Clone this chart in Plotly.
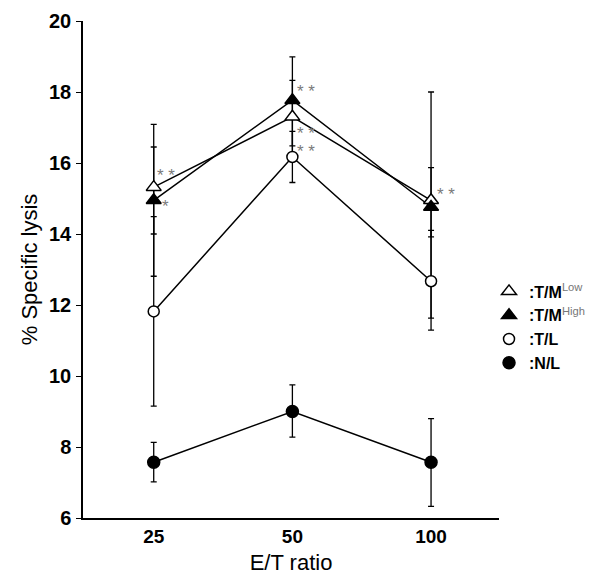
import plotly.graph_objects as go

# ---- data ----
categories = ["25", "50", "100"]

tm_low = [15.32, 17.30, 14.95]
tm_low_plus = [1.77, 1.03, 3.05]
tm_low_minus = [2.51, 1.03, 3.32]

tm_high = [14.95, 17.77, 14.76]
tm_high_plus = [1.50, 1.22, 1.11]
tm_high_minus = [0.95, 1.29, 0.84]

tl = [11.82, 16.17, 12.67]
tl_plus = [2.67, 0.72, 1.43]
tl_minus = [2.67, 0.72, 1.38]

nl = [7.57, 9.00, 7.57]
nl_plus = [0.56, 0.75, 1.23]
nl_minus = [0.55, 0.72, 1.24]

sig_tm_low = ["* *", "* *", "* *"]
sig_tm_high = ["*", "* *", ""]
sig_tl = ["", "* *", ""]
sig_nl = ["", "", ""]

y_ticks = [6, 8, 10, 12, 14, 16, 18, 20]

FONT = "Liberation Sans, Arial, sans-serif"
SUP = "<span style='color:#777'><sup>{}</sup></span>"

# ---- styling ----
series = [
    dict(name="<b>:T/M</b>" + SUP.format("Low"), y=tm_low, p=tm_low_plus, m=tm_low_minus,
         symbol="triangle-up", fill="white", size=13, sig=sig_tm_low,
         sig_shift=[(12, 12), (14, -17), (15, 6)]),
    dict(name="<b>:T/M</b>" + SUP.format("High"), y=tm_high, p=tm_high_plus, m=tm_high_minus,
         symbol="triangle-up", fill="black", size=13, sig=sig_tm_high,
         sig_shift=[(12, -6), (14, 9), (0, 0)]),
    dict(name="<b>:T/L</b>", y=tl, p=tl_plus, m=tl_minus,
         symbol="circle", fill="white", size=11, sig=sig_tl,
         sig_shift=[(0, 0), (14, 5), (0, 0)]),
    dict(name="<b>:N/L</b>", y=nl, p=nl_plus, m=nl_minus,
         symbol="circle", fill="black", size=12, sig=sig_nl,
         sig_shift=[(0, 0), (0, 0), (0, 0)]),
]

fig = go.Figure()

# lines + error bars (drawn first)
for s in series:
    fig.add_trace(go.Scatter(
        x=categories, y=s["y"], mode="lines", showlegend=False,
        line=dict(color="black", width=1.5),
        error_y=dict(type="data", symmetric=False, array=s["p"], arrayminus=s["m"],
                     color="black", thickness=1.3, width=3),
        hoverinfo="skip",
    ))

# markers (on top), also used for the legend
for s in series:
    fig.add_trace(go.Scatter(
        x=categories, y=s["y"], mode="markers", name=s["name"],
        marker=dict(symbol=s["symbol"], size=s["size"], color=s["fill"],
                    line=dict(color="black", width=1.5)),
    ))

# significance asterisks (x given as category index)
ann = []
for s in series:
    for i, lab in enumerate(s["sig"]):
        if lab:
            dx, dy = s["sig_shift"][i]
            ann.append(dict(x=i, y=s["y"][i], xref="x", yref="y", text=lab, showarrow=False,
                            xanchor="center", yanchor="middle", xshift=dx, yshift=dy,
                            font=dict(family=FONT, size=17, color="#7a7a7a")))

fig.update_layout(
    width=591, height=576,
    margin=dict(l=83, r=92, t=21, b=58, autoexpand=False),
    paper_bgcolor="white", plot_bgcolor="white",
    showlegend=True,
    legend=dict(x=0.976, xanchor="left", y=0.49, yanchor="top",
                font=dict(family=FONT, size=16, color="black"),
                bgcolor="rgba(0,0,0,0)", itemwidth=30, tracegroupgap=0),
    annotations=ann,
    font=dict(family=FONT, color="black"),
)

fig.update_xaxes(
    type="category", range=[-0.51, 2.49], automargin=False,
    showline=True, linecolor="black", linewidth=2,
    ticks="", showgrid=False, zeroline=False,
    tickfont=dict(family=FONT, size=19, weight="bold", color="black"),
    title=dict(text="E/T ratio", font=dict(family=FONT, size=22, color="black"),
               standoff=9),
)
fig.update_yaxes(
    range=[6, 20], tickvals=y_ticks, ticktext=[str(v) for v in y_ticks],
    automargin=False,
    showline=True, linecolor="black", linewidth=1.5,
    ticks="outside", ticklen=5, tickwidth=1.2, tickcolor="black",
    ticklabelstandoff=1,
    showgrid=False, zeroline=False,
    tickfont=dict(family=FONT, size=20, weight="bold", color="black"),
    title=dict(text="% Specific lysis", font=dict(family=FONT, size=22, color="black"),
               standoff=5),
)

fig.write_html(
    "out.html",
    config={"displayModeBar": False},
    post_script="document.body.style.margin='0';document.body.style.overflow='hidden';",
)
